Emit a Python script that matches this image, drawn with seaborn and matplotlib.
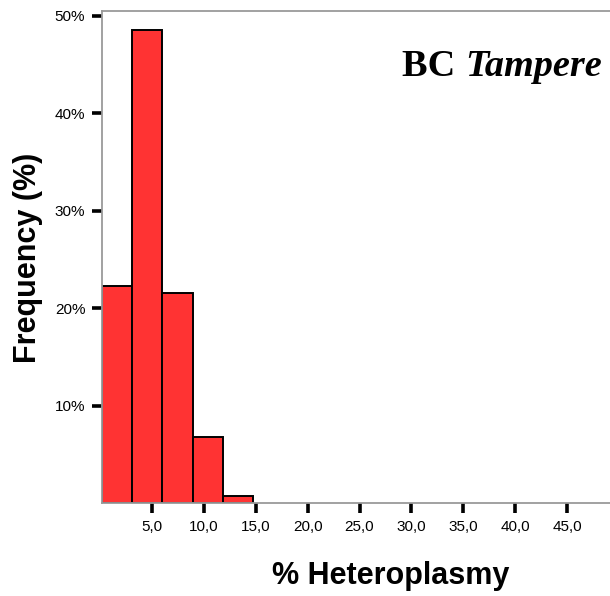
import numpy as np
import pandas as pd
import matplotlib
matplotlib.use("Agg")
import matplotlib.pyplot as plt
import seaborn as sns

# Histogram of heteroplasmy levels (bin edges and percentage per bin)
bin_edges = [0.19, 3.10, 6.02, 8.93, 11.85, 14.76]
frequency_pct = [22.3, 48.5, 21.6, 6.8, 0.7]
x_ticks = [5, 10, 15, 20, 25, 30, 35, 40, 45]
x_tick_labels = ["5,0", "10,0", "15,0", "20,0", "25,0", "30,0", "35,0", "40,0", "45,0"]
y_ticks = [10, 20, 30, 40, 50]
y_tick_labels = ["10%", "20%", "30%", "40%", "50%"]

centers = [(a + b) / 2 for a, b in zip(bin_edges[:-1], bin_edges[1:])]
df = pd.DataFrame({"heteroplasmy": centers, "pct": frequency_pct})

sns.set_style("white")
plt.rcParams["font.family"] = ["Liberation Sans", "DejaVu Sans"]
plt.rcParams["text.color"] = "black"
plt.rcParams["xtick.color"] = "black"
plt.rcParams["ytick.color"] = "black"

fig = plt.figure(figsize=(6.10, 5.96), dpi=100)
ax = fig.add_axes([102 / 610, 93 / 596, 1 - 102 / 610, (503 - 11) / 596])

sns.histplot(data=df, x="heteroplasmy", weights="pct", bins=bin_edges,
             color="#ff3333", alpha=1.0, edgecolor="black", linewidth=1.4, ax=ax)

ax.set_xlim(0.22, 49.1)
ax.set_ylim(0, 50.5)
ax.set_xticks(x_ticks)
ax.set_xticklabels(x_tick_labels)
ax.set_yticks(y_ticks)
ax.set_yticklabels(y_tick_labels)
ax.tick_params(axis="both", direction="out", length=7.5, width=2.6, color="black",
               labelcolor="black", labelsize=11, pad=4.5, bottom=True, left=True)

for side in ["left", "top", "bottom"]:
    ax.spines[side].set_color("#9a9a9a")
    ax.spines[side].set_linewidth(1.3)
ax.spines["right"].set_visible(False)

ax.set_xlabel("")
ax.set_ylabel("")
fig.text(391 / 610, 1 - 576 / 596, "% Heteroplasmy", ha="center", va="center",
         fontsize=22, fontweight="bold", color="black")
fig.text(28 / 610, 1 - 258 / 596, "Frequency (%)", ha="center", va="center",
         rotation=90, fontsize=22, fontweight="bold", color="black")

t2 = fig.text(602 / 610, 1 - 76 / 596, "Tampere", ha="right", va="baseline",
              fontsize=27.5, fontweight="bold", fontstyle="italic", color="black",
              family=["Liberation Serif", "DejaVu Serif"])
ax.annotate("BC ", xy=(0, 0), xycoords=t2, ha="right", va="bottom",
            fontsize=27.5, fontweight="bold", color="black",
            family=["Liberation Serif", "DejaVu Serif"], annotation_clip=False)

fig.savefig("out.png", dpi=100)
